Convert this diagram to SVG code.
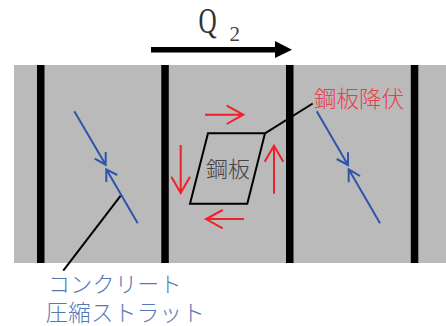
<svg xmlns="http://www.w3.org/2000/svg" width="446" height="326" viewBox="0 0 446 326">
<style>
.cjk{font-family:"Noto Sans CJK JP","Liberation Serif",sans-serif;font-weight:300}
.red{fill:none;stroke:#f02028;stroke-width:2}
.blue{fill:none;stroke:#2f55a8;stroke-width:2}
.blk{fill:none;stroke:#000;stroke-width:2}
.bar{fill:#000}
</style>
<rect id="wall" x="14" y="65" width="432" height="198" fill="#bababa"/>
<g id="columns">
<rect class="bar" x="37" y="65" width="7.5" height="198"/>
<rect class="bar" x="161.300" y="65" width="7.500" height="198"/>
<rect class="bar" x="286" y="65" width="7.500" height="198"/>
<rect class="bar" x="410.800" y="65" width="7.500" height="198"/>
</g>
<g id="load">
<rect x="151" y="47" width="126" height="5.500" fill="#000"/>
<polygon points="275,41 292,49.700 275,58" fill="#000"/>
<text transform="translate(198.500 32.500) scale(0.7 1)" font-family="'Liberation Serif',serif" font-size="36" fill="#333">Q</text>
<text x="229.500" y="41" font-family="'Liberation Serif',serif" font-size="21" fill="#444">2</text>
</g>
<g id="plate">
<polygon class="blk" points="208,133.300 265,133.300 247.300,203.700 190,203.700"/>
<text class="cjk" x="206" y="177" font-size="22" fill="#444">鋼板</text>
</g>
<g id="label-yield">
<text class="cjk" x="314" y="107" font-size="22.500" fill="#e8404a">鋼板降伏</text>
</g>
<g id="label-strut">
<text class="cjk" x="48" y="292" font-size="22" letter-spacing="0.300" fill="#5577b5">コンクリート</text>
<text class="cjk" x="45.500" y="321" font-size="22.500" letter-spacing="0.300" fill="#5577b5">圧縮ストラット</text>
</g>
<g id="connectors">
<path class="blk" d="M265 133.300L312.700 103.500"/>
<path class="blk" d="M120.700 195.700L63.300 270.700"/>
<path class="red" d="M205 114.700H243.300M226.700 105.700L243.300 114.700L226.700 124"/>
<path class="red" d="M274 193.700V145.700M264.700 161.700L274 145.700L283.300 161.700"/>
<path class="red" d="M180.700 145V193M171.300 176.700L180.700 193L190 176.700"/>
<path class="red" d="M244 219H206M222.700 210L206 219L222.700 228.300"/>
<path class="blue" d="M74.300 111.300L105.700 164.700M94.700 158.700L105.700 164.700L105.700 152"/>
<path class="blue" d="M137.700 223.300L106.300 169.300M117.300 175L106.300 169.300L106.300 182"/>
<path class="blue" d="M316.700 111.300L348 165M336.700 159L348 165L348 152.300"/>
<path class="blue" d="M380 223.300L348.700 169.300M360 176L348.700 169.300L348.700 182.300"/>
</g>
</svg>
